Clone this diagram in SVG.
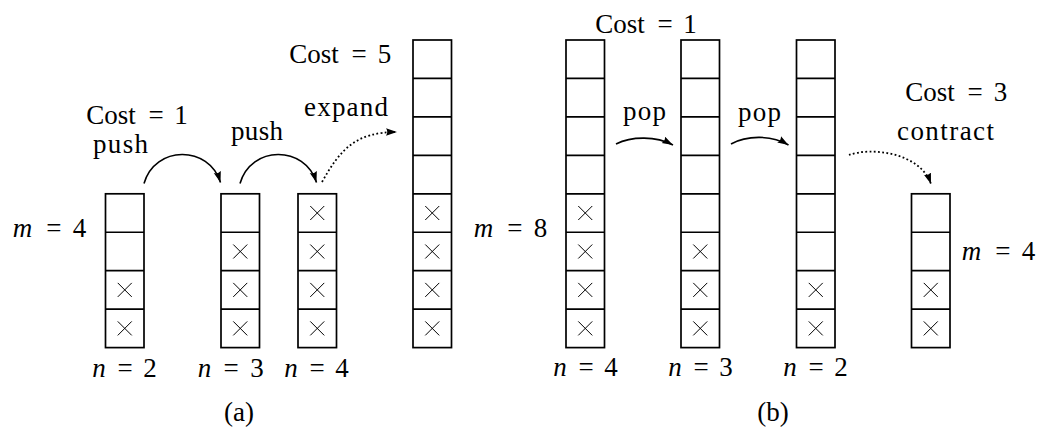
<svg xmlns="http://www.w3.org/2000/svg" xmlns:xlink="http://www.w3.org/1999/xlink" width="1039" height="429" viewBox="0 0 1039 429">
<style>
.box{fill:none;stroke:#000;stroke-width:1.7}
.div{stroke:#000;stroke-width:1.7}
.x{stroke:#000;stroke-width:1;fill:none}
.t{font-family:'Liberation Serif','Times New Roman',serif;font-size:27px;fill:#000;text-anchor:middle}
.i{font-style:italic}
.arr{fill:none;stroke:#000;stroke-width:1.6}
.dot{fill:none;stroke:#000;stroke-width:1.8;stroke-dasharray:1.8 2.4}
</style>
<defs>
<g id="xm"><path class="x" d="M-7,-7 L7,7 M-7,7 L7,-7"/></g>
<marker id="ah" markerUnits="userSpaceOnUse" markerWidth="13" markerHeight="10" refX="11" refY="4" orient="auto">
<path d="M0,0.3 L11,4 L0,7.7 Q2.5,4 0,0.3 z" fill="#000"/>
</marker>
</defs>
<rect width="1039" height="429" fill="#fff"/>

<g id="stack1">
<rect class="box" x="105.5" y="193.8" width="38.5" height="153.8"/>
<path class="div" d="M105.5,232.25H144 M105.5,270.7H144 M105.5,309.15H144"/>
<use xlink:href="#xm" x="124.75" y="289.9"/><use xlink:href="#xm" x="124.75" y="328.4"/>
</g>
<g id="stack2">
<rect class="box" x="221" y="193.8" width="38.5" height="153.8"/>
<path class="div" d="M221,232.25H259.5 M221,270.7H259.5 M221,309.15H259.5"/>
<use xlink:href="#xm" x="240.25" y="251.5"/><use xlink:href="#xm" x="240.25" y="289.9"/><use xlink:href="#xm" x="240.25" y="328.4"/>
</g>
<g id="stack3">
<rect class="box" x="298" y="193.8" width="38.5" height="153.8"/>
<path class="div" d="M298,232.25H336.5 M298,270.7H336.5 M298,309.15H336.5"/>
<use xlink:href="#xm" x="317.25" y="213"/><use xlink:href="#xm" x="317.25" y="251.5"/><use xlink:href="#xm" x="317.25" y="289.9"/><use xlink:href="#xm" x="317.25" y="328.4"/>
</g>
<g id="stack4">
<rect class="box" x="413" y="40" width="38.5" height="307.6"/>
<path class="div" d="M413,78.45H451.5 M413,116.9H451.5 M413,155.35H451.5 M413,193.8H451.5 M413,232.25H451.5 M413,270.7H451.5 M413,309.15H451.5"/>
<use xlink:href="#xm" x="432.25" y="213"/><use xlink:href="#xm" x="432.25" y="251.5"/><use xlink:href="#xm" x="432.25" y="289.9"/><use xlink:href="#xm" x="432.25" y="328.4"/>
</g>
<g id="stack5">
<rect class="box" x="566" y="40" width="38.5" height="307.6"/>
<path class="div" d="M566,78.45H604.5 M566,116.9H604.5 M566,155.35H604.5 M566,193.8H604.5 M566,232.25H604.5 M566,270.7H604.5 M566,309.15H604.5"/>
<use xlink:href="#xm" x="585.25" y="213"/><use xlink:href="#xm" x="585.25" y="251.5"/><use xlink:href="#xm" x="585.25" y="289.9"/><use xlink:href="#xm" x="585.25" y="328.4"/>
</g>
<g id="stack6">
<rect class="box" x="681" y="40" width="38.5" height="307.6"/>
<path class="div" d="M681,78.45H719.5 M681,116.9H719.5 M681,155.35H719.5 M681,193.8H719.5 M681,232.25H719.5 M681,270.7H719.5 M681,309.15H719.5"/>
<use xlink:href="#xm" x="700.25" y="251.5"/><use xlink:href="#xm" x="700.25" y="289.9"/><use xlink:href="#xm" x="700.25" y="328.4"/>
</g>
<g id="stack7">
<rect class="box" x="796.5" y="40" width="38.5" height="307.6"/>
<path class="div" d="M796.5,78.45H835 M796.5,116.9H835 M796.5,155.35H835 M796.5,193.8H835 M796.5,232.25H835 M796.5,270.7H835 M796.5,309.15H835"/>
<use xlink:href="#xm" x="815.75" y="289.9"/><use xlink:href="#xm" x="815.75" y="328.4"/>
</g>
<g id="stack8">
<rect class="box" x="911.5" y="193.8" width="38.5" height="153.8"/>
<path class="div" d="M911.5,232.25H950 M911.5,270.7H950 M911.5,309.15H950"/>
<use xlink:href="#xm" x="930.75" y="289.9"/><use xlink:href="#xm" x="930.75" y="328.4"/>
</g>

<g id="connectors">
<path class="arr" marker-end="url(#ah)" d="M144,183.5 C155,145 209,145 220.5,182.5"/>
<path class="arr" marker-end="url(#ah)" d="M240,183.5 C251,145 305,145 316.5,182.5"/>
<path class="dot" marker-end="url(#ah)" d="M322,182 C340,150 355,132 397,132"/>
<path class="arr" marker-end="url(#ah)" d="M616,144 C632,136 656,136 673,145"/>
<path class="arr" marker-end="url(#ah)" d="M731,144 C747,135 772,135 788.5,145"/>
<path class="dot" marker-end="url(#ah)" d="M849,155 C870,147 920,152 931,184"/>
</g>

<g id="labels">
<text class="t" y="123.5"><tspan x="111">Cost</tspan><tspan x="156">=</tspan><tspan x="181">1</tspan></text>
<text class="t" x="120.5" y="153" textLength="55" lengthAdjust="spacing">push</text>
<text class="t" x="257" y="140" textLength="52" lengthAdjust="spacing">push</text>
<text class="t" x="346" y="116" textLength="84" lengthAdjust="spacing">expand</text>
<text class="t" y="63"><tspan x="314">Cost</tspan><tspan x="359">=</tspan><tspan x="384.5">5</tspan></text>
<text class="t" y="32.5"><tspan x="620">Cost</tspan><tspan x="665">=</tspan><tspan x="690">1</tspan></text>
<text class="t" x="644.5" y="120" textLength="43" lengthAdjust="spacing">pop</text>
<text class="t" x="759.5" y="121" textLength="43" lengthAdjust="spacing">pop</text>
<text class="t" y="101"><tspan x="930">Cost</tspan><tspan x="975">=</tspan><tspan x="1000.5">3</tspan></text>
<text class="t" x="945.5" y="140" textLength="97" lengthAdjust="spacing">contract</text>
<text class="t" y="237"><tspan class="i" x="22.5">m</tspan><tspan x="53.8">=</tspan><tspan x="79.5">4</tspan></text>
<text class="t" y="237"><tspan class="i" x="483.5">m</tspan><tspan x="514.8">=</tspan><tspan x="540.5">8</tspan></text>
<text class="t" y="260"><tspan class="i" x="971.5">m</tspan><tspan x="1002.8">=</tspan><tspan x="1028.5">4</tspan></text>
<text class="t" y="377"><tspan class="i" x="99.1">n</tspan><tspan x="125.2">=</tspan><tspan x="150">2</tspan></text>
<text class="t" y="377"><tspan class="i" x="204.5">n</tspan><tspan x="231">=</tspan><tspan x="257">3</tspan></text>
<text class="t" y="377"><tspan class="i" x="291.1">n</tspan><tspan x="317.2">=</tspan><tspan x="342">4</tspan></text>
<text class="t" y="376"><tspan class="i" x="560.1">n</tspan><tspan x="586.2">=</tspan><tspan x="611">4</tspan></text>
<text class="t" y="376"><tspan class="i" x="675.1">n</tspan><tspan x="701.2">=</tspan><tspan x="726">3</tspan></text>
<text class="t" y="376"><tspan class="i" x="790.1">n</tspan><tspan x="816.2">=</tspan><tspan x="841">2</tspan></text>
<text class="t" x="239" y="421">(a)</text>
<text class="t" x="773" y="421">(b)</text>
</g>
</svg>
